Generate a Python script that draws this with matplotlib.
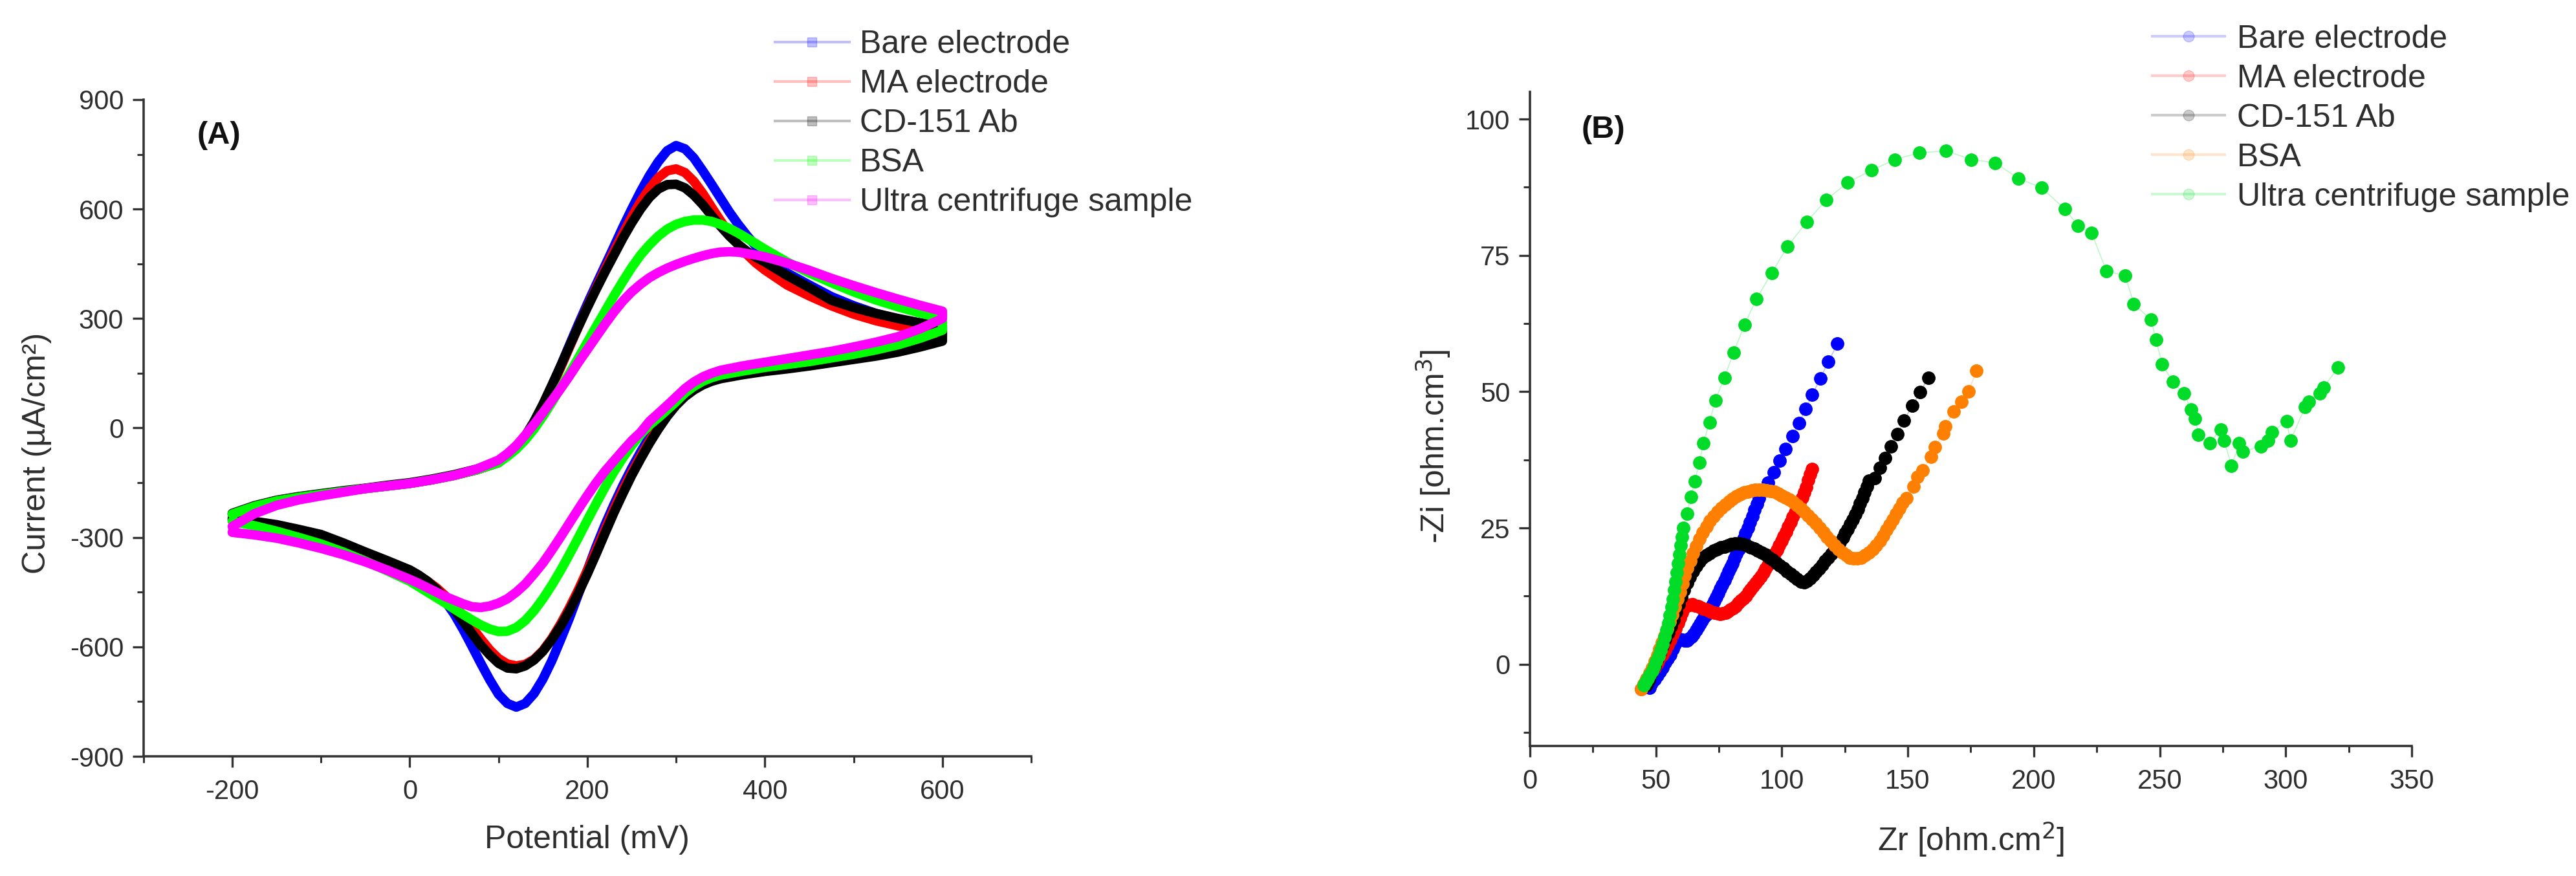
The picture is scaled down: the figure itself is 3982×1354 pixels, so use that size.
import matplotlib
matplotlib.use("Agg")
import matplotlib.pyplot as plt
from matplotlib.lines import Line2D
from matplotlib.ticker import MultipleLocator

plt.rcParams['font.family'] = ['Liberation Sans', 'DejaVu Sans']
plt.rcParams['axes.unicode_minus'] = False

labels = ['Bare electrode', 'MA electrode', 'CD-151 Ab', 'BSA', 'Ultra centrifuge sample']

# ---- (A) cyclic voltammetry: forward sweep (-200 -> 600) then reverse sweep (600 -> -200)
E_fwd = [-200, -175, -150, -125, -100, -75, -50, -25, 0, 25, 50, 75, 100,
         110, 120, 130, 140, 150, 160, 170, 180, 190, 200, 210, 220, 230, 240, 250,
         260, 270, 280, 290, 300, 310, 320, 330, 340, 350, 360, 370, 380, 390, 400,
         425, 450, 475, 500, 525, 550, 575, 600]
E_rev = [600, 575, 550, 525, 500, 475, 450, 425, 400, 375, 350,
         340, 330, 320, 310, 300, 290, 280, 270, 260, 250, 240, 230, 220, 210, 200,
         190, 180, 170, 160, 150, 140, 130, 120, 110, 100, 90, 80, 70, 60, 50,
         40, 30, 20, 10, 0, -25, -50, -75, -100, -125, -150, -175, -200]

bare_fwd = [-236, -215, -200, -190, -182, -174, -166, -159, -152, -142, -130, -115, -95,
            -75, -52, -25, 15, 62, 115, 170, 228, 285, 340, 393, 445, 497, 550, 600,
            648, 692, 730, 760, 774, 765, 740, 705, 668, 630, 592, 558, 527, 498, 472,
            425, 392, 360, 335, 314, 298, 288, 280]
bare_rev = [255, 236, 220, 208, 198, 189, 180, 172, 165, 156, 145,
            138, 128, 114, 96, 72, 44, 12, -25, -66, -110, -158, -210, -265, -325, -390,
            -455, -520, -580, -638, -688, -728, -755, -765, -755, -730, -690, -645, -598, -552, -510,
            -475, -445, -422, -405, -393, -370, -348, -325, -305, -290, -277, -265, -253]

ma_fwd = [-236, -215, -200, -190, -182, -174, -166, -159, -152, -142, -130, -115, -95,
          -75, -52, -25, 14, 60, 112, 166, 222, 278, 332, 384, 435, 484, 532, 578,
          620, 656, 686, 705, 710, 700, 676, 643, 605, 568, 533, 502, 475, 452, 433,
          392, 362, 335, 312, 294, 280, 270, 262]
ma_rev = [248, 230, 215, 204, 195, 186, 178, 170, 162, 153, 142,
          135, 125, 110, 92, 66, 36, 2, -36, -78, -122, -170, -222, -278, -335, -390,
          -443, -492, -537, -577, -610, -634, -648, -652, -647, -632, -608, -578, -546, -514, -485,
          -460, -438, -420, -405, -392, -368, -345, -322, -302, -287, -274, -263, -252]

cd_fwd = [-234, -213, -198, -188, -180, -172, -165, -157, -150, -140, -128, -113, -93,
          -73, -50, -22, 18, 65, 117, 170, 225, 278, 330, 380, 428, 474, 520, 562,
          600, 632, 655, 667, 668, 658, 638, 612, 582, 553, 526, 503, 484, 468, 455,
          418, 385, 350, 330, 314, 300, 288, 278]
cd_rev = [238, 222, 208, 197, 188, 179, 170, 162, 155, 146, 135,
          128, 118, 104, 86, 62, 32, -3, -42, -85, -130, -180, -232, -288, -345, -400,
          -452, -500, -543, -580, -612, -636, -652, -660, -658, -645, -622, -595, -563, -530, -498,
          -468, -442, -420, -403, -389, -364, -340, -315, -292, -278, -265, -256, -248]

bsa_fwd = [-236, -215, -200, -190, -182, -174, -166, -159, -152, -142, -130, -115, -95,
           -78, -58, -33, -3, 32, 70, 110, 150, 192, 235, 278, 320, 362, 402, 440,
           474, 502, 526, 545, 558, 566, 570, 570, 566, 558, 547, 534, 520, 505, 490,
           455, 425, 398, 373, 351, 332, 315, 300]
bsa_rev = [268, 246, 228, 214, 202, 192, 182, 174, 166, 156, 145,
           138, 128, 114, 96, 72, 50, 28, 8, -18, -48, -82, -120, -162, -207, -253,
           -300, -346, -390, -431, -468, -501, -528, -547, -557, -558, -551, -540, -526, -511, -496,
           -480, -465, -450, -435, -420, -392, -365, -340, -318, -300, -283, -268, -256]

uc_fwd = [-270, -235, -212, -197, -186, -176, -166, -159, -152, -142, -130, -113, -88,
          -70, -48, -20, 10, 42, 75, 108, 143, 180, 215, 250, 285, 318, 348, 373,
          394, 412, 426, 438, 448, 457, 465, 472, 478, 482, 483, 482, 478, 474, 469,
          452, 432, 410, 390, 371, 353, 336, 320]
uc_rev = [300, 272, 250, 235, 222, 210, 200, 190, 180, 170, 158,
          150, 140, 126, 108, 85, 62, 40, 18, -12, -35, -62, -90, -118, -150, -185,
          -222, -260, -298, -335, -370, -400, -428, -450, -468, -480, -488, -492, -490, -482, -472,
          -462, -450, -438, -426, -415, -390, -367, -347, -330, -315, -302, -293, -286]

cv_fwd = [bare_fwd, ma_fwd, cd_fwd, bsa_fwd, uc_fwd]
cv_rev = [bare_rev, ma_rev, cd_rev, bsa_rev, uc_rev]
colors_A = ['#0000FF', '#FF0000', '#000000', '#00FF00', '#FF00FF']

# ---- (B) Nyquist plots
bare_zr = [47.4, 48.4, 49.5, 50.6, 51.7, 52.7, 53.7, 54.7, 55.8, 56.8, 57.6, 58.5, 59.5, 60.5,
           61.5, 62.4, 63.3, 64.2, 65.1, 66.0, 66.8, 67.6, 68.4, 69.2, 70.0, 70.8, 71.6, 72.4,
           73.2, 74.0, 74.8, 75.6, 76.4, 77.2, 78.0, 78.8, 79.6, 80.4, 81.2, 82.0, 82.9, 83.8,
           84.7, 85.6, 86.5, 87.4, 88.3, 89.2, 90.1, 91.0, 92.0,
           94.6, 96.8, 99.2, 101.5, 104.3, 106.8, 109.4, 112.1, 115.2, 118.5, 122.1]
bare_zi = [-4.3, -3.5, -2.8, -2.0, -1.3, -0.6, 0.3, 1.0, 1.8, 2.8, 3.7, 4.5, 4.6, 4.5,
           4.4, 4.4, 4.7, 5.1, 5.6, 6.2, 6.8, 7.4, 8.0, 8.6, 9.1, 9.6, 10.3, 10.9,
           11.6, 12.3, 13.0, 13.8, 14.6, 15.4, 16.2, 17.0, 17.8, 18.5, 19.4, 20.2, 21.1, 22.0,
           23.0, 24.0, 25.0, 26.1, 27.2, 28.3, 29.4, 30.5, 31.6,
           33.3, 35.2, 37.4, 39.5, 41.9, 44.2, 46.8, 49.4, 52.4, 55.5, 58.8]

ma_zr = [44.2, 45.2, 46.3, 47.4, 48.4, 49.5, 50.5, 51.5, 52.6, 53.8, 54.8, 55.8, 56.8, 57.8,
         58.8, 59.6, 60.4, 61.2, 62.3, 63.4, 64.5, 65.6, 66.7, 67.8, 68.9, 70.0, 71.1, 72.2,
         73.3, 74.4, 75.5, 76.6, 77.7, 78.7, 79.7, 80.7, 81.7, 82.7, 83.7, 84.7, 85.7, 86.7,
         87.7, 88.7, 89.7, 90.7, 91.7, 92.7, 93.6, 94.5, 95.4, 96.3, 97.2, 98.1, 99.0, 99.9,
         100.8, 101.7, 102.6, 103.5, 104.4, 105.3, 106.2, 107.1, 108.0, 108.9, 109.6, 110.5,
         111.3, 112.1]
ma_zi = [-4.5, -3.7, -2.9, -2.0, -1.2, -0.6, 0.2, 1.0, 1.8, 2.6, 3.5, 4.5, 5.5, 6.5,
         7.5, 8.5, 9.5, 10.3, 10.8, 10.9, 11.0, 10.8, 10.6, 10.4, 10.2, 10.0, 9.8, 9.6,
         9.4, 9.3, 9.2, 9.3, 9.5, 9.7, 10.0, 10.3, 10.7, 11.2, 11.7, 12.1, 12.6, 13.2,
         13.7, 14.3, 14.9, 15.5, 16.1, 16.8, 17.5, 18.2, 18.9, 19.5, 20.2, 21.0, 21.8, 22.6,
         23.5, 24.3, 25.2, 26.1, 27.0, 27.9, 28.8, 29.7, 30.6, 31.5, 32.5, 33.8,
         34.8, 35.8]

cd_zr = [46.3, 47.3, 48.4, 49.5, 50.6, 51.6, 52.7, 53.8, 54.9, 56.0, 57.0, 58.0, 59.0, 60.0,
         61.1, 62.3, 63.5, 64.7, 66.0, 67.3, 68.7, 70.1, 71.5, 72.9, 74.3, 75.8, 77.2, 78.6,
         80.0, 81.5, 83.0, 84.5, 86.0, 87.5, 89.0, 90.5, 92.0, 93.5, 95.0, 96.4, 97.8, 99.2,
         100.6, 102.0, 103.4, 104.8, 106.2, 107.6, 108.8, 110.0, 111.2, 112.4, 113.6, 114.8,
         116.0, 117.2, 118.4, 119.6, 120.8, 122.0, 123.1, 124.2, 125.2, 126.2, 127.2, 128.2,
         129.2, 130.1, 131.0, 131.9, 132.8, 133.7, 134.6,
         136.8, 139.0, 141.1, 143.2, 145.9, 148.5, 151.7, 154.9, 158.1]
cd_zi = [-3.8, -2.9, -1.6, -0.3, 1.0, 2.2, 3.4, 4.6, 5.8, 7.0, 8.2, 9.6, 11.0, 12.3,
         13.6, 14.9, 16.0, 17.1, 18.0, 18.8, 19.5, 20.0, 20.4, 20.8, 21.1, 21.4, 21.6, 21.8,
         22.0, 22.1, 22.1, 22.0, 21.8, 21.5, 21.2, 20.9, 20.5, 20.1, 19.6, 19.2, 18.6, 18.1,
         17.6, 17.1, 16.6, 16.1, 15.6, 15.2, 15.0, 15.3, 15.8, 16.3, 16.9, 17.5,
         18.2, 18.9, 19.5, 20.2, 20.9, 21.6, 22.4, 23.2, 24.0, 24.8, 25.7, 26.6,
         27.5, 28.5, 29.5, 30.5, 31.5, 32.6, 33.7,
         34.1, 36.1, 37.8, 40.0, 42.2, 44.7, 47.4, 49.9, 52.6]

bsa_zr = [44.2, 45.2, 46.3, 47.4, 48.5, 49.5, 50.5, 51.5, 52.5, 53.5, 54.5, 55.5, 56.5, 57.5,
          58.5, 59.5, 60.5, 61.5, 62.5, 63.6, 64.8, 66.0, 67.3, 68.6, 70.0, 71.5, 73.0, 74.5,
          76.0, 77.5, 79.0, 80.5, 82.0, 83.5, 85.0, 86.5, 88.0, 89.5, 91.0, 92.5, 94.0, 95.5,
          97.0, 98.5, 100.0, 101.5, 103.0, 104.5, 106.0, 107.5, 109.0, 110.5, 112.0, 113.5,
          115.0, 116.5, 118.0, 119.5, 121.0, 122.5, 124.0, 125.5, 127.0, 128.5, 130.0, 131.5,
          133.0, 134.5, 136.0, 137.5, 139.0, 140.3, 141.5, 142.7, 144.0, 145.3, 146.6, 148.0,
          149.5, 152.2, 153.8, 156.0, 159.2, 160.8, 164.0, 165.0, 168.2, 171.4, 174.1, 177.3]
bsa_zi = [-4.5, -3.6, -2.6, -1.6, -0.6, 0.5, 1.6, 2.8, 4.0, 5.2, 6.5, 7.8, 9.1, 10.5,
          11.9, 13.3, 14.8, 16.2, 17.6, 19.0, 20.4, 21.7, 23.0, 24.2, 25.3, 26.3, 27.2, 28.0,
          28.7, 29.3, 29.9, 30.4, 30.8, 31.2, 31.5, 31.7, 31.9, 32.0, 32.0, 32.0, 31.9, 31.8,
          31.6, 31.3, 31.0, 30.6, 30.2, 29.7, 29.2, 28.6, 28.0, 27.3, 26.6, 25.8,
          25.0, 24.2, 23.4, 22.6, 21.8, 21.1, 20.5, 20.0, 19.6, 19.4, 19.4, 19.6,
          20.0, 20.5, 21.1, 21.8, 22.6, 23.6, 24.6, 25.6, 26.6, 27.6, 28.6, 29.6,
          30.5, 32.6, 34.4, 35.6, 38.1, 39.8, 42.3, 43.7, 46.4, 48.2, 50.1, 53.8]

uc_zr = [45.3, 46.0, 46.8, 47.6, 48.5, 49.3, 50.2, 51.0, 51.8, 52.6, 53.4, 54.2, 54.9, 55.6,
         56.2, 56.8, 57.4, 57.9, 58.4, 58.9, 59.4, 59.9, 60.4, 61.0,
         62.3, 63.9, 65.5, 67.3, 68.9, 71.3, 73.6, 77.2, 80.9, 85.2, 89.9, 96.0, 102.2, 109.8,
         117.6, 126.2, 135.6, 144.9, 154.5, 165.1, 175.1, 184.7, 194.0, 203.1, 212.4, 217.6,
         223.0, 228.9, 236.3, 239.7, 246.6, 248.5, 251.0, 255.2, 259.6, 262.5, 264.0, 265.4,
         269.8, 274.2, 275.6, 278.5, 281.5, 282.9, 290.2, 293.1, 294.6, 300.4, 301.9, 307.7,
         309.1, 313.5, 315.0, 320.8]
uc_zi = [-3.8, -3.2, -2.6, -1.9, -1.2, -0.4, 0.5, 1.5, 2.6, 3.7, 5.0, 6.3, 7.6, 9.0,
         10.5, 12.0, 13.6, 15.2, 16.8, 18.5, 20.1, 21.8, 23.4, 25.0,
         27.6, 30.7, 33.6, 37.0, 40.6, 44.4, 48.4, 52.6, 57.2, 62.3, 67.0, 71.8, 76.6, 81.1,
         85.2, 88.4, 90.6, 92.6, 93.8, 94.2, 92.6, 92.0, 89.1, 87.4, 83.5, 80.4,
         79.1, 72.1, 71.3, 66.1, 63.2, 59.5, 55.0, 51.8, 49.7, 46.7, 45.1, 42.1,
         40.5, 43.1, 41.0, 36.4, 40.5, 39.0, 40.0, 41.0, 42.6, 44.6, 41.0, 47.2,
         48.2, 49.7, 50.8, 54.4]

eis_zr = [bare_zr, ma_zr, cd_zr, bsa_zr, uc_zr]
eis_zi = [bare_zi, ma_zi, cd_zi, bsa_zi, uc_zi]
colors_B = ['#0000FF', '#FF0000', '#000000', '#FF8000', '#00DC28']

AX_COL = '#333333'
TXT_COL = '#2e2e2e'


def style_axes(ax):
    for s in ['top', 'right']:
        ax.spines[s].set_visible(False)
    for s in ['left', 'bottom']:
        ax.spines[s].set_color(AX_COL)
        ax.spines[s].set_linewidth(2.6)
    ax.tick_params(which='major', direction='out', length=12, width=2.4,
                   color=AX_COL, labelcolor=TXT_COL, labelsize=30)
    ax.tick_params(which='minor', direction='out', length=7, width=2.2, color=AX_COL)
    ax.tick_params(axis='x', which='major', pad=13)
    ax.tick_params(axis='y', which='major', pad=10)


fig = plt.figure(figsize=(39.82, 13.54), dpi=100)

# ---------------- panel A
axA = fig.add_axes([0.0557, 0.1366, 0.3446, 0.7497])
for f, r, c in zip(cv_fwd, cv_rev, colors_A):
    axA.plot(E_fwd + E_rev, f + r, color=c, lw=10.5,
             solid_joinstyle='round', solid_capstyle='round')
axA.set_xlim(-300, 700)
axA.set_ylim(-900, 900)
axA.xaxis.set_major_locator(MultipleLocator(200))
axA.xaxis.set_minor_locator(MultipleLocator(100))
axA.yaxis.set_major_locator(MultipleLocator(300))
axA.yaxis.set_minor_locator(MultipleLocator(150))
style_axes(axA)
axA.set_xlabel('Potential (mV)', fontsize=36, color=TXT_COL)
axA.xaxis.set_label_coords(0.5, -0.104)
axA.set_ylabel('Current (µA/cm²)', fontsize=36, color=TXT_COL)
axA.yaxis.set_label_coords(-0.1035, 0.462)
axA.text(0.085, 0.945, '(A)', transform=axA.transAxes, fontsize=35,
         fontweight='bold', ha='center', va='center', color='#111111')

hA = [Line2D([], [], color=c, lw=3, alpha=0.25, marker='s', markersize=10,
             markerfacecolor=c, markeredgecolor=c) for c in colors_A]
legA = axA.legend(hA, labels, loc='upper left', bbox_to_anchor=(0.3008, 0.966),
                  bbox_transform=fig.transFigure, frameon=False, fontsize=36,
                  borderaxespad=0, borderpad=0, handlelength=2.3,
                  handletextpad=0.33, labelspacing=0.3)
for t in legA.get_texts():
    t.set_color(TXT_COL)

# ---------------- panel B
axB = fig.add_axes([0.5939, 0.1484, 0.3423, 0.7467])
for x, y, c in zip(eis_zr, eis_zi, colors_B):
    axB.plot(x, y, color=c, lw=1.2, alpha=0.25)
    axB.plot(x, y, linestyle='none', marker='o', markersize=14,
             markerfacecolor=c, markeredgecolor=c)
axB.set_xlim(0, 350)
axB.set_ylim(-15, 105)
axB.xaxis.set_major_locator(MultipleLocator(50))
axB.xaxis.set_minor_locator(MultipleLocator(25))
axB.yaxis.set_major_locator(MultipleLocator(25))
axB.yaxis.set_minor_locator(MultipleLocator(12.5))
style_axes(axB)
axB.set_xlabel('Zr [ohm.cm$^2$]', fontsize=36, color=TXT_COL)
axB.xaxis.set_label_coords(0.5, -0.114)
axB.set_ylabel('-Zi [ohm.cm$^3$]', fontsize=36, color=TXT_COL)
axB.yaxis.set_label_coords(-0.088, 0.458)
axB.text(0.083, 0.942, '(B)', transform=axB.transAxes, fontsize=35,
         fontweight='bold', ha='center', va='center', color='#111111')

hB = [Line2D([], [], color=c, lw=3, alpha=0.2, marker='o', markersize=12,
             markerfacecolor=c, markeredgecolor=c) for c in colors_B]
legB = axB.legend(hB, labels, loc='upper left', bbox_to_anchor=(0.8355, 0.972),
                  bbox_transform=fig.transFigure, frameon=False, fontsize=36,
                  borderaxespad=0, borderpad=0, handlelength=2.25,
                  handletextpad=0.37, labelspacing=0.3)
for t in legB.get_texts():
    t.set_color(TXT_COL)

fig.savefig('out.png', dpi=100, facecolor='white')
